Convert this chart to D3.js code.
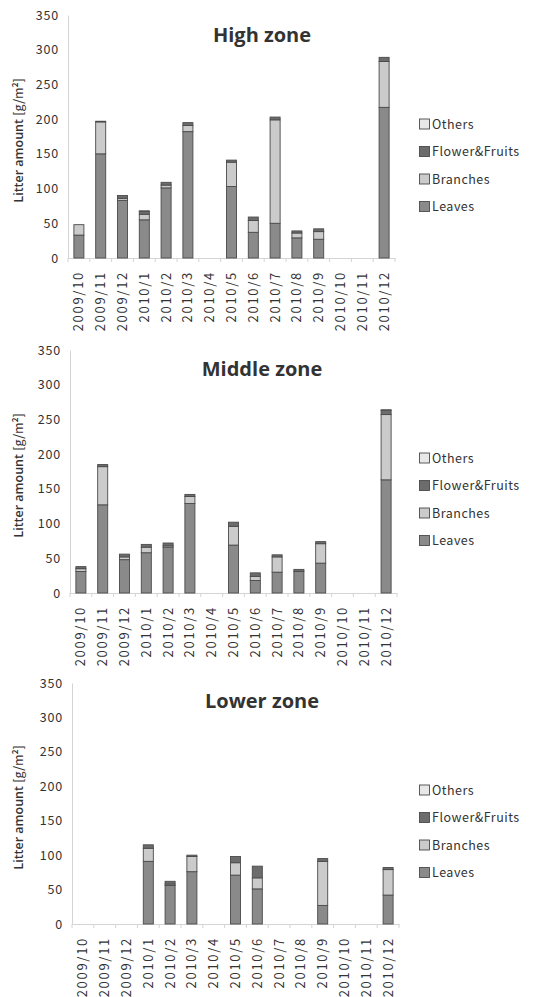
<!DOCTYPE html>
<html><head><meta charset="utf-8">
<script src="https://cdn.jsdelivr.net/npm/d3@7"></script>
<style>body{margin:0;background:#fff}</style>
</head><body>
<script>
const categories = ["2009/10","2009/11","2009/12","2010/1","2010/2","2010/3","2010/4","2010/5","2010/6","2010/7","2010/8","2010/9","2010/10","2010/11","2010/12"];
const seriesNames = ["Leaves","Branches","Flower&Fruits","Others"];
const yTicks = [0,50,100,150,200,250,300,350];
// High zone
const highLeaves   = [33,150,83,55,101,182,0,103,37,50,29,27,0,0,217];
const highBranches = [15,46,3,8,4,9,0,35,17,149,7,11,0,0,66];
const highFlowers  = [0,1,4,4,4,4,0,3,5,4,3,4,0,0,6];
const highOthers   = [0,0,0,1,0,0,0,0,0,0,0,0,0,0,0];
// Middle zone
const midLeaves   = [31,127,48,58,66,129,0,69,18,30,31,43,0,0,163];
const midBranches = [4,55,4,8,2,10,0,27,6,22,0,28,0,0,94];
const midFlowers  = [3,3,4,4,4,3,0,6,5,3,3,3,0,0,6];
const midOthers   = [0,0,0,0,0,0,0,0,0,0,0,0,0,0,1];
// Lower zone
const lowLeaves   = [0,0,0,91,56,76,0,71,51,0,0,27,0,0,42];
const lowBranches = [0,0,0,19,2,22,0,18,16,0,0,64,0,0,37];
const lowFlowers  = [0,0,0,5,4,2,0,9,17,0,0,4,0,0,3];
const lowOthers   = [0,0,0,0,0,0,0,0,0,0,0,0,0,0,0];

const colors = {"Leaves":"#8a8a8a","Branches":"#cbcbcb","Flower&Fruits":"#6c6c6c","Others":"#e8e8e8"};

const panels = [
  {title:"High zone", data:[highLeaves,highBranches,highFlowers,highOthers], top:15, bottom:258, x0:68, x1:395, titleY:42, legendY:124},
  {title:"Middle zone", data:[midLeaves,midBranches,midFlowers,midOthers], top:350, bottom:593, x0:70, x1:397, titleY:376, legendY:458},
  {title:"Lower zone", data:[lowLeaves,lowBranches,lowFlowers,lowOthers], top:683, bottom:924, x0:72, x1:399, titleY:708, legendY:790}
];

const svg = d3.select("body").append("svg").attr("width",539).attr("height",997);
const tickFont = "'Noto Sans CJK JP', 'DejaVu Sans', sans-serif";

panels.forEach(p => {
  const g = svg.append("g");
  const x = d3.scaleBand().domain(categories).range([p.x0,p.x1]).paddingInner(0.54).paddingOuter(0.27);
  const y = d3.scaleLinear().domain([0,350]).range([p.bottom,p.top]);

  // y axis
  const ya = g.append("g").attr("transform",`translate(${p.x0},0)`)
    .call(d3.axisLeft(y).tickValues(yTicks).tickSize(0).tickPadding(9));
  ya.select(".domain").attr("stroke","#d4d4d4");
  ya.selectAll("text").attr("font-family",tickFont).attr("font-size",12.5).attr("letter-spacing","0.8px").attr("fill","#333");

  // x axis
  const xa = g.append("g").attr("transform",`translate(0,${p.bottom})`)
    .call(d3.axisBottom(x).tickSize(0));
  xa.select(".domain").attr("stroke","#d4d4d4");
  xa.selectAll("text").attr("font-family",tickFont).attr("font-size",13).attr("fill","#333")
    .attr("letter-spacing","1.7px")
    .attr("transform","rotate(-90)").attr("text-anchor","end").attr("dy","0.35em")
    .attr("x",-13).attr("y",0);
  // category boundary ticks
  const bounds = d3.range(categories.length+1).map(i => p.x0 + i*(p.x1-p.x0)/categories.length);
  g.selectAll(".bt").data(bounds).join("line")
    .attr("x1",d=>d).attr("x2",d=>d).attr("y1",p.bottom).attr("y2",p.bottom+4)
    .attr("stroke","#d4d4d4");

  // stacked bars
  const rows = categories.map((c,i)=>{const o={cat:c}; seriesNames.forEach((s,k)=>o[s]=p.data[k][i]); return o;});
  const stack = d3.stack().keys(seriesNames)(rows);
  stack.forEach(layer => {
    g.selectAll(null).data(layer.filter(d=>d[1]-d[0]>0)).join("rect")
      .attr("x",d=>x(d.data.cat)).attr("width",x.bandwidth())
      .attr("y",d=>y(d[1])).attr("height",d=>y(d[0])-y(d[1]))
      .attr("fill",colors[layer.key]).attr("stroke","#4a4a4a").attr("stroke-width",0.9);
  });

  // title
  g.append("text").attr("x",262).attr("y",p.titleY).attr("text-anchor","middle")
    .attr("font-family","'Open Sans', sans-serif").attr("font-weight","bold").attr("font-size",20)
    .attr("fill","#333").text(p.title);

  // y label
  const yl = g.append("text").attr("transform",`translate(23,${(p.top+p.bottom)/2+4}) rotate(-90)`)
    .attr("text-anchor","middle").attr("font-family","'Open Sans', sans-serif").attr("font-weight","600")
    .attr("font-size",12.5).attr("fill","#333");
  yl.append("tspan").text("Litter amount ");
  yl.append("tspan").attr("font-family",tickFont).attr("font-weight","normal").text("[g/m");
  yl.append("tspan").attr("font-family",tickFont).attr("font-size",8).attr("dy",-5).text("2");
  yl.append("tspan").attr("font-family",tickFont).attr("font-weight","normal").attr("dy",5).text("]");

  // legend
  const legOrder = ["Others","Flower&Fruits","Branches","Leaves"];
  const lg = g.append("g");
  legOrder.forEach((s,i)=>{
    const ly = p.legendY + i*27.5;
    lg.append("rect").attr("x",419.5).attr("y",ly-5).attr("width",10).attr("height",10)
      .attr("fill",colors[s]).attr("stroke","#4a4a4a").attr("stroke-width",0.9);
    lg.append("text").attr("x",432).attr("y",ly).attr("dy","0.36em")
      .attr("font-family",tickFont).attr("font-size",12.5).attr("letter-spacing","0.5px").attr("fill","#333").text(s);
  });
});
</script>
</body></html>
